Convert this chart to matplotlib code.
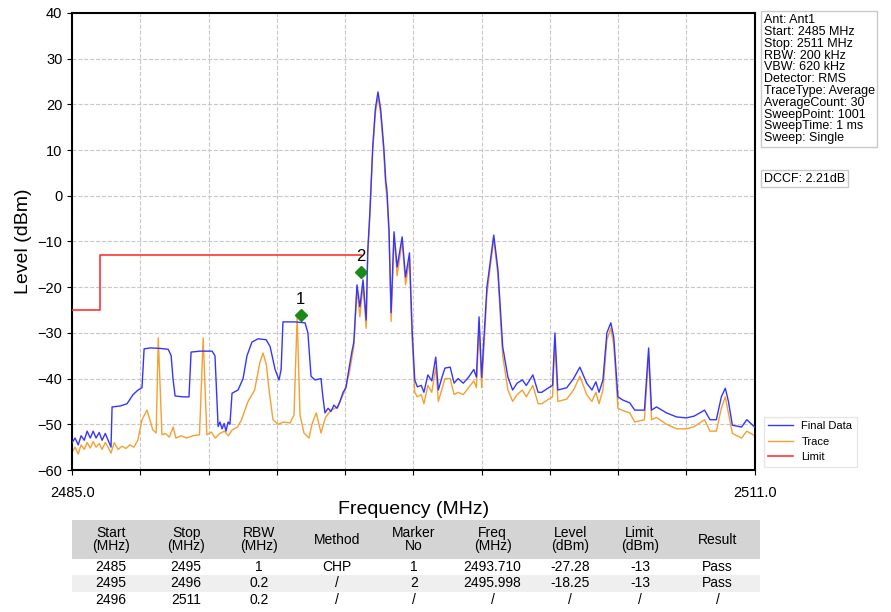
import numpy as np
import matplotlib.pyplot as plt

plt.rcParams['font.family'] = ['Liberation Sans', 'DejaVu Sans']

# --- dane ---
final_freq = [2485.00, 2485.11, 2485.23, 2485.34, 2485.46, 2485.57, 2485.69, 2485.80, 2485.91, 2486.03,
              2486.14, 2486.26, 2486.37, 2486.48, 2486.52, 2486.83, 2487.09, 2487.32, 2487.51, 2487.66,
              2487.74, 2487.97, 2488.35, 2488.66, 2488.77, 2488.84, 2488.92, 2489.23, 2489.45, 2489.53,
              2489.87, 2490.33, 2490.44, 2490.52, 2490.56, 2490.63, 2490.71, 2490.79, 2490.86, 2490.94,
              2491.01, 2491.09, 2491.32, 2491.51, 2491.66, 2491.85, 2492.08, 2492.39, 2492.54, 2492.73,
              2492.88, 2492.96, 2493.03, 2493.49, 2493.87, 2493.98, 2494.10, 2494.25, 2494.48, 2494.55,
              2494.63, 2494.75, 2494.86, 2494.97, 2495.09, 2495.20, 2495.32, 2495.43, 2495.54, 2495.66,
              2495.73, 2495.85, 2495.96, 2496.08, 2496.20, 2496.26, 2496.34, 2496.45, 2496.55, 2496.65,
              2496.75, 2496.87, 2496.92, 2496.95, 2496.99, 2497.07, 2497.15, 2497.26, 2497.38, 2497.57,
              2497.70, 2497.85, 2497.95, 2498.05, 2498.15, 2498.30, 2498.40, 2498.55, 2498.70, 2498.85,
              2498.95, 2499.10, 2499.20, 2499.40, 2499.55, 2499.70, 2499.90, 2500.10, 2500.30, 2500.40,
              2500.50, 2500.60, 2500.80, 2501.06, 2501.22, 2501.40, 2501.60, 2501.78, 2501.95, 2502.15,
              2502.30, 2502.55, 2502.75, 2502.89, 2503.15, 2503.30, 2503.39, 2503.50, 2503.84, 2504.10,
              2504.34, 2504.60, 2504.80, 2504.95, 2505.07, 2505.22, 2505.37, 2505.52, 2505.63, 2505.79,
              2505.98, 2506.24, 2506.43, 2506.80, 2506.96, 2507.07, 2507.26, 2507.64, 2508.03, 2508.40,
              2508.70, 2509.09, 2509.30, 2509.54, 2509.73, 2509.88, 2510.00, 2510.15, 2510.50, 2510.70,
              2511.00]
final_level = [-54.0, -53.0, -54.5, -52.5, -53.5, -51.5, -53.0, -51.5, -53.0, -51.8,
               -53.5, -52.0, -53.5, -55.0, -46.2, -46.0, -45.5, -43.5, -42.5, -42.0,
               -33.5, -33.3, -33.4, -33.6, -35.0, -40.0, -43.8, -44.0, -44.0, -34.2,
               -34.0, -34.0, -35.0, -45.0, -50.5, -49.5, -51.0, -49.8, -51.5, -49.5,
               -50.0, -43.2, -42.5, -40.0, -35.0, -32.0, -31.3, -31.5, -33.0, -38.0,
               -40.3, -38.0, -27.6, -27.6, -27.8, -30.0, -39.5, -40.3, -40.0, -44.0,
               -47.5, -46.5, -47.2, -45.8, -46.5, -45.0, -43.0, -42.0, -38.0, -34.0,
               -32.0, -19.5, -24.3, -18.4, -27.2, -12.0, -3.8, 10.7, 19.0, 22.7,
               19.0, 10.7, 6.0, 3.0, 1.3, -7.5, -25.6, -7.9, -15.6, -9.0,
               -17.8, -12.5, -29.4, -40.3, -41.8, -41.5, -43.0, -39.2, -40.5, -35.3,
               -42.5, -39.5, -37.7, -37.5, -41.0, -40.0, -41.0, -39.7, -38.0, -39.7,
               -26.5, -39.7, -20.0, -8.6, -16.2, -33.0, -39.7, -42.5, -41.0, -40.3,
               -41.5, -39.2, -43.0, -43.0, -42.0, -41.5, -30.0, -42.5, -42.0, -40.0,
               -37.5, -41.0, -42.5, -40.7, -43.0, -40.3, -30.0, -27.8, -30.9, -44.0,
               -44.7, -45.3, -46.9, -46.9, -33.3, -46.9, -46.2, -47.5, -48.4, -48.6,
               -48.2, -46.9, -49.0, -49.0, -44.0, -42.1, -45.0, -50.2, -50.6, -49.0,
               -50.6]

trace_freq = [2485.00, 2485.11, 2485.23, 2485.34, 2485.46, 2485.57, 2485.69, 2485.80, 2485.91, 2486.03,
              2486.14, 2486.26, 2486.37, 2486.48, 2486.60, 2486.75, 2486.90, 2487.05, 2487.20, 2487.35,
              2487.50, 2487.66, 2487.85, 2488.07, 2488.20, 2488.28, 2488.42, 2488.55, 2488.70, 2488.85,
              2488.95, 2489.15, 2489.35, 2489.60, 2489.85, 2489.99, 2490.13, 2490.30, 2490.45, 2490.62,
              2490.80, 2490.95, 2491.10, 2491.30, 2491.45, 2491.70, 2491.95, 2492.15, 2492.27, 2492.40,
              2492.50, 2492.65, 2492.85, 2493.05, 2493.30, 2493.45, 2493.57, 2493.68, 2493.83, 2494.02,
              2494.15, 2494.30, 2494.48, 2494.65, 2494.86, 2495.12, 2495.36, 2495.55, 2495.66, 2495.73,
              2495.85, 2495.96, 2496.08, 2496.20, 2496.26, 2496.34, 2496.45, 2496.55, 2496.65, 2496.75,
              2496.87, 2496.92, 2496.95, 2496.99, 2497.07, 2497.15, 2497.26, 2497.38, 2497.57, 2497.70,
              2497.85, 2497.95, 2498.05, 2498.15, 2498.30, 2498.40, 2498.55, 2498.70, 2498.85, 2498.95,
              2499.10, 2499.20, 2499.40, 2499.55, 2499.70, 2499.90, 2500.10, 2500.30, 2500.40, 2500.50,
              2500.60, 2500.80, 2501.06, 2501.22, 2501.40, 2501.60, 2501.78, 2501.95, 2502.15, 2502.30,
              2502.55, 2502.75, 2502.89, 2503.15, 2503.30, 2503.39, 2503.50, 2503.84, 2504.10, 2504.34,
              2504.60, 2504.80, 2504.95, 2505.07, 2505.22, 2505.37, 2505.52, 2505.63, 2505.79, 2505.98,
              2506.24, 2506.43, 2506.80, 2506.96, 2507.07, 2507.26, 2507.64, 2508.03, 2508.40, 2508.70,
              2509.09, 2509.30, 2509.54, 2509.73, 2509.88, 2510.00, 2510.15, 2510.50, 2510.70, 2511.00]
trace_level = [-56.0, -55.0, -56.5, -54.5, -55.5, -54.0, -55.2, -53.8, -55.0, -54.2,
               -55.5, -54.0, -55.0, -56.3, -54.0, -55.5, -54.8, -55.3, -54.5, -55.0,
               -53.5, -49.0, -46.9, -51.2, -51.9, -31.1, -52.3, -52.0, -52.8, -50.6,
               -53.0, -52.5, -53.0, -52.5, -52.3, -31.1, -52.3, -51.7, -53.0, -52.0,
               -51.5, -52.5, -51.2, -50.6, -49.0, -45.0, -42.5, -36.5, -34.4, -37.0,
               -42.5, -49.0, -50.0, -49.5, -49.7, -48.0, -26.5, -48.0, -51.9, -53.0,
               -49.7, -47.5, -51.9, -48.5, -46.9, -46.2, -43.0, -39.0, -35.3, -33.0,
               -20.5, -26.5, -19.5, -29.0, -13.0, -4.5, 10.0, 18.0, 21.5, 18.0,
               9.5, 4.0, 1.5, 0.0, -8.5, -27.5, -9.0, -17.5, -10.0, -19.5,
               -14.0, -31.0, -43.0, -44.0, -43.5, -45.5, -41.5, -43.0, -37.5, -45.0,
               -42.0, -40.0, -40.0, -43.5, -43.0, -43.5, -42.0, -40.5, -42.0, -28.0,
               -42.0, -21.5, -9.5, -17.5, -35.0, -42.5, -45.0, -43.5, -42.5, -44.0,
               -41.5, -45.5, -45.5, -44.5, -44.0, -31.5, -45.0, -44.5, -42.5, -39.5,
               -43.5, -45.0, -43.0, -45.5, -42.5, -31.5, -29.0, -32.5, -46.5, -47.0,
               -47.5, -49.5, -49.0, -35.0, -49.0, -48.5, -50.0, -51.0, -51.0, -50.5,
               -49.0, -51.5, -51.5, -46.5, -44.0, -47.5, -52.0, -53.0, -51.5, -52.5]

limit_freq = [2485.0, 2486.05, 2486.05, 2496.0]
limit_level = [-25, -25, -13, -13]

marker_no = ["1", "2"]
marker_freq = [2493.71, 2495.998]
marker_plot_level = [-26.1, -16.7]

info_lines = ["Ant: Ant1", "Start: 2485 MHz", "Stop: 2511 MHz", "RBW: 200 kHz", "VBW: 620 kHz",
              "Detector: RMS", "TraceType: Average", "AverageCount: 30", "SweepPoint: 1001",
              "SweepTime: 1 ms", "Sweep: Single"]
dccf_text = "DCCF: 2.21dB"

col_labels = ["Start\n(MHz)", "Stop\n(MHz)", "RBW\n(MHz)", "Method", "Marker\nNo",
              "Freq\n(MHz)", "Level\n(dBm)", "Limit\n(dBm)", "Result"]
table_rows = [["2485", "2495", "1", "CHP", "1", "2493.710", "-27.28", "-13", "Pass"],
              ["2495", "2496", "0.2", "/", "2", "2495.998", "-18.25", "-13", "Pass"],
              ["2496", "2511", "0.2", "/", "/", "/", "/", "/", "/"]]

# --- wykres ---
fig = plt.figure(figsize=(8.91, 6.12), dpi=100)
ax = fig.add_axes([0.081, 0.232, 0.766, 0.747])

ax.plot(final_freq, final_level, color="#3535ff", lw=1.0, label="Final Data", zorder=3)
ax.plot(trace_freq, trace_level, color="#f5a030", lw=1.0, label="Trace", zorder=2)
ax.plot(limit_freq, limit_level, color="#ff3333", lw=1.2, label="Limit", zorder=4)

ax.plot(marker_freq, marker_plot_level, "D", color="#1a8a1a", ms=6, zorder=5)
for no, f, lv in zip(marker_no, marker_freq, marker_plot_level):
    ax.text(f, lv + 1.8, no, ha="center", va="bottom", fontsize=12, zorder=6)

ax.set_xlim(2485, 2511)
ax.set_ylim(-60, 40)
xt = np.linspace(2485, 2511, 11)
ax.set_xticks(xt)
ax.set_xticklabels(["2485.0"] + [""] * 9 + ["2511.0"])
ax.set_yticks(np.arange(-60, 41, 10))
ax.tick_params(labelsize=10.5, pad=8, axis="x")
ax.tick_params(labelsize=10.5, axis="y")
ax.grid(True, color="#c8c8c8", ls="--", lw=0.8)
for s in ax.spines.values():
    s.set_linewidth(1.5)
ax.set_xlabel("Frequency (MHz)", fontsize=14, labelpad=1)
ax.set_ylabel("Level (dBm)", fontsize=14, labelpad=4)

ax.legend(loc="lower left", bbox_to_anchor=(1.005, -0.005), fontsize=8,
          frameon=True, edgecolor="#e0e0e0", fancybox=False, handlelength=2.2)

fig.text(0.857, 0.977, "\n".join(info_lines), ha="left", va="top", fontsize=9,
         linespacing=0.98, bbox=dict(fc="white", ec="#c8c8c8", pad=2))
fig.text(0.857, 0.718, dccf_text, ha="left", va="top", fontsize=9,
         bbox=dict(fc="white", ec="#c8c8c8", pad=2))

# --- tabela ---
tax = fig.add_axes([0.081, 0.007, 0.772, 0.143])
tax.axis("off")
widths = [78, 72, 74, 82, 72, 85, 70, 70, 85]
widths = [w / sum(widths) for w in widths]
tbl = tax.table(cellText=table_rows, colLabels=col_labels, colWidths=widths,
                cellLoc="center", bbox=[0, 0, 1, 1])
tbl.auto_set_font_size(False)
for (r, c), cell in tbl.get_celld().items():
    cell.set_edgecolor("white")
    cell.set_linewidth(0)
    cell.get_text().set_fontsize(10)
    if r == 0:
        cell.set_facecolor("#d4d4d4")
        cell.set_height(2.4)
        cell.get_text().set_linespacing(0.9)
    else:
        cell.set_height(1.0)
        cell.set_facecolor("#efefef" if r == 2 else "white")

fig.savefig("out.png", dpi=100)
